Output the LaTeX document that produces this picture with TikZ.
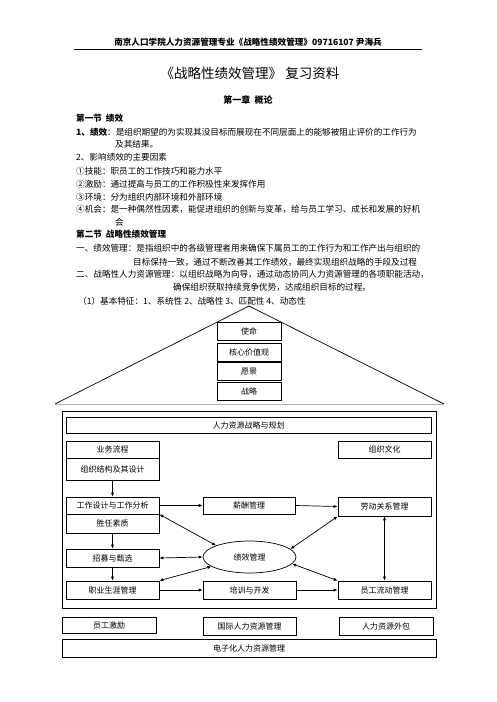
\documentclass[tikz,border=0pt]{standalone}
\usepackage{fontspec}
\setmainfont{Noto Sans CJK SC}
\usetikzlibrary{shapes.geometric,arrows.meta}

\begin{document}
\begin{tikzpicture}[x=1pt,y=-1pt,
    line/.style={anchor=west,inner sep=0pt,font=\fontsize{8.6}{10}\selectfont},
    head/.style={line,font=\fontsize{8.6}{10}\selectfont\bfseries},
    box/.style={draw,line width=0.7pt,inner sep=0pt,font=\fontsize{8}{9}\selectfont},
    arr/.style={line width=0.7pt,-{Latex[length=4pt,width=3.2pt]}},
    darr/.style={line width=0.7pt,{Latex[length=4pt,width=3.2pt]}-{Latex[length=4pt,width=3.2pt]}}]
    \useasboundingbox (0,0) rectangle (496,702);
    % page header
    \node[inner sep=0pt,font=\fontsize{8.6}{10}\selectfont\bfseries] (top) at (248,42) {南京人口学院人力资源管理专业《战略性绩效管理》09716107 尹海兵};
    \coordinate (ruleL) at (74,49);
    \coordinate (ruleR) at (422,49);
    \draw[line width=0.8pt] (ruleL) -- (ruleR);
    \node[inner sep=0pt,font=\fontsize{13.5}{15}\selectfont] (title) at (250,73) {《战略性绩效管理》 复习资料};
    \node[inner sep=0pt,font=\fontsize{9}{11}\selectfont\bfseries] (chap) at (248,100) {第一章\ \ 概论};
    % section 1
    \node[head] (s1) at (76,118) {第一节\ \ 绩效};
    \node[line] (l1) at (76,132) {\textbf{1、绩效}：是组织期望的为实现其没目标而展现在不同层面上的能够被阻止评价的工作行为};
    \node[line] (l1b) at (115,144) {及其结果。};
    \node[line] (l2) at (76,157) {2、影响绩效的主要因素};
    \node[line] (l3) at (76,171) {①技能：职员工的工作技巧和能力水平};
    \node[line] (l4) at (76,184) {②激励：通过提高与员工的工作积极性来发挥作用};
    \node[line] (l5) at (76,197) {③环境：分为组织内部环境和外部环境};
    \node[line] (l6) at (76,209) {④机会：是一种偶然性因素，能促进组织的创新与变革，给与员工学习、成长和发展的好机};
    \node[line] (l6b) at (115,222) {会};
    % section 2
    \node[head] (s2) at (76,234) {第二节\ \ 战略性绩效管理};
    \node[line] (m1) at (76,248) {一、绩效管理：是指组织中的各级管理者用来确保下属员工的工作行为和工作产出与组织的};
    \node[line] (m1b) at (133,262) {目标保持一致，通过不断改善其工作绩效，最终实现组织战略的手段及过程};
    \node[line] (m2) at (76,274) {二、战略性人力资源管理：以组织战略为向导，通过动态协同人力资源管理的各项职能活动，};
    \node[line] (m2b) at (173,287) {确保组织获取持续竞争优势，达成组织目标的过程。};
    \node[line] (m3) at (78,301) {（1）基本特征：1、系统性\ 2、战略性\ 3、匹配性\ 4、动态性};
    % roof
    \coordinate (apex) at (249,306);
    \coordinate (roofL) at (55,404);
    \coordinate (roofR) at (444,404);
    \draw[line width=0.7pt] (roofL) -- (apex) -- (roofR);
    \draw[gray!60,line width=1pt] (roofL) -- (roofR);
    \node[box,minimum width=64,minimum height=18] (mission) at (249,331) {使命};
    \node[box,minimum width=64,minimum height=18] (values) at (249,352) {核心价值观};
    \node[box,minimum width=64,minimum height=18] (vision) at (249,371.5) {愿景};
    \node[box,minimum width=64,minimum height=18] (strategy) at (249,391) {战略};
    % house body
    \draw[line width=0.8pt] (62,411) rectangle (436,608);
    \node[box,minimum width=365,minimum height=16] (plan) at (248.5,425) {人力资源战略与规划};
    \node[box,minimum width=93,minimum height=17] (process) at (112.5,449.5) {业务流程};
    \node[box,minimum width=93,minimum height=22] (structure) at (112.5,469) {组织结构及其设计};
    \node[box,minimum width=93,minimum height=17] (culture) at (384.5,449.5) {组织文化};
    \node[box,minimum width=93,minimum height=17] (jobdesign) at (112.5,505.5) {工作设计与工作分析};
    \node[box,minimum width=93,minimum height=19] (compet) at (112.5,523.5) {胜任素质};
    \node[box,minimum width=93,minimum height=18] (recruit) at (112.5,558) {招募与甄选};
    \node[box,minimum width=93,minimum height=18] (career) at (112.5,590) {职业生涯管理};
    \node[box,minimum width=92,minimum height=17] (pay) at (249,505.5) {薪酬管理};
    \node[box,minimum width=93,minimum height=19] (labor) at (384.5,506.5) {劳动关系管理};
    \node[box,ellipse,minimum width=93,minimum height=32] (perf) at (249.5,557) {绩效管理};
    \node[box,minimum width=93,minimum height=18] (train) at (249.5,590) {培训与开发};
    \node[box,minimum width=93,minimum height=18] (flow) at (384.5,590) {员工流动管理};
    \draw[arr] (structure.south) -- (jobdesign.north);
    \draw[arr] (compet.south) -- (recruit.north);
    \draw[arr] (recruit.south) -- (career.north);
    \draw[arr] (jobdesign.east) -- (pay.west);
    \draw[arr] (pay.east) -- (labor.west);
    \draw[arr] (career.east) -- (train.west);
    \draw[arr] (train.east) -- (flow.west);
    \draw[darr] (jobdesign.south east) -- (perf.161);
    \draw[darr] (recruit.east) -- (perf.west);
    \draw[darr] (career.north east) -- (perf.194);
    \draw[darr] (labor.south west) -- (perf.11);
    \draw[darr] (perf.-9) -- (flow.north west);
    \draw[darr] (labor.south) -- (flow.north);
    % foundation
    \node[box,minimum width=94,minimum height=16] (motiv) at (109,625) {员工激励};
    \node[box,minimum width=93,minimum height=18] (intl) at (249.5,626) {国际人力资源管理};
    \node[box,minimum width=94,minimum height=18] (outsrc) at (386,626) {人力资源外包};
    \node[box,minimum width=374,minimum height=18] (ehr) at (249,648) {电子化人力资源管理};
\end{tikzpicture}
\end{document}
